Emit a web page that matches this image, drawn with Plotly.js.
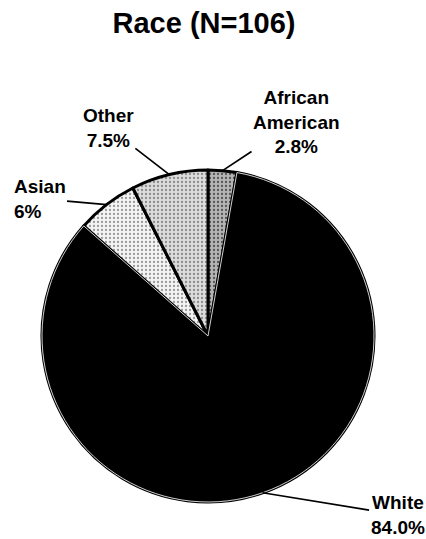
<!DOCTYPE html>
<html>
<head>
<meta charset="utf-8">
<script src="https://cdn.plot.ly/plotly-3.0.1.min.js"></script>
<style>html,body{margin:0;padding:0;background:#fff}</style>
</head>
<body>
<div id="chart" style="width:426px;height:539px"></div>
<script>
// ---- data ----
var categories = ["African<br>American", "White", "Asian", "Other"];
var values = [2.8, 84.0, 6, 7.5];
var pctLabels = ["2.8%", "84.0%", "6%", "7.5%"];
var sliceColors = ["#b4b4b4", "#000000", "#f4f4f4", "#dcdcdc"];
var dotColors = ["#555555", "#000000", "#9a9a9a", "#8a8a8a"];
var dotShapes = [".", "", ".", "."];

// ---- layout / style ----
var W = 426, H = 539;
var domX = [0, 416 / W];
var domY = [37 / H, 369 / H];
// label offsets (pixels) from the slice edge point, and text alignment
var labelOffsets = [[74, -49], [135, 22], [-67, -6], [-61, -47]];
var labelAlign = ["center", "center", "left", "center"];
var FONT = "Arial, 'Liberation Sans', sans-serif";

// pie geometry (same rule as plotly: radius = half of smaller domain side)
var boxW = W * (domX[1] - domX[0]), boxH = H * (domY[1] - domY[0]);
var r = Math.min(boxW, boxH) / 2;
var cx = W * (domX[0] + domX[1]) / 2;
var cy = H * (1 - (domY[0] + domY[1]) / 2);

var total = values.reduce(function (a, b) { return a + b; }, 0);
var cum = 0;
var annotations = [];
values.forEach(function (v, i) {
  var mid = (cum + v / 2) / total * 2 * Math.PI; // clockwise from top
  cum += v;
  var px = cx + r * Math.sin(mid);
  var py = cy - r * Math.cos(mid);
  annotations.push({
    xref: "paper", yref: "paper",
    x: px / W, y: 1 - py / H,
    ax: labelOffsets[i][0], ay: labelOffsets[i][1],
    text: categories[i] + "<br>" + pctLabels[i],
    align: labelAlign[i],
    showarrow: true, arrowhead: 0, arrowwidth: 1.7, arrowcolor: "#000",
    standoff: 0, startstandoff: 0,
    font: { family: FONT, size: 19, color: "#000", weight: "bold" }
  });
});

var trace = {
  type: "pie",
  labels: categories,
  values: values,
  sort: false,
  direction: "clockwise",
  rotation: 0,
  textinfo: "none",
  hoverinfo: "label+percent",
  domain: { x: domX, y: domY },
  marker: {
    colors: sliceColors,
    line: { color: "#000", width: 3 },
    pattern: { shape: dotShapes, fgcolor: dotColors, bgcolor: sliceColors, size: 4, solidity: 0.25 }
  },
  showlegend: false
};

// thin light line running inside the black border of the "White" slice
var edgeTrace = {
  type: "pie",
  labels: categories,
  values: values,
  sort: false,
  direction: "clockwise",
  rotation: 0,
  textinfo: "none",
  hoverinfo: "skip",
  domain: { x: domX, y: domY },
  marker: {
    colors: ["rgba(0,0,0,0)", "rgba(0,0,0,0)", "rgba(0,0,0,0)", "rgba(0,0,0,0)"],
    line: { color: ["rgba(0,0,0,0)", "#e8e8e8", "rgba(0,0,0,0)", "rgba(0,0,0,0)"], width: 0.9 }
  },
  showlegend: false
};

var layout = {
  width: W, height: H,
  margin: { l: 0, r: 0, t: 0, b: 0 },
  paper_bgcolor: "#fff",
  showlegend: false,
  title: {
    text: "Race (N=106)",
    x: 204 / W, xanchor: "center",
    y: 1 - 23 / H, yanchor: "middle", yref: "container",
    font: { family: FONT, size: 29, color: "#000", weight: "bold" }
  },
  annotations: annotations
};

Plotly.newPlot("chart", [trace, edgeTrace], layout, { displayModeBar: false, staticPlot: true });
</script>
</body>
</html>
